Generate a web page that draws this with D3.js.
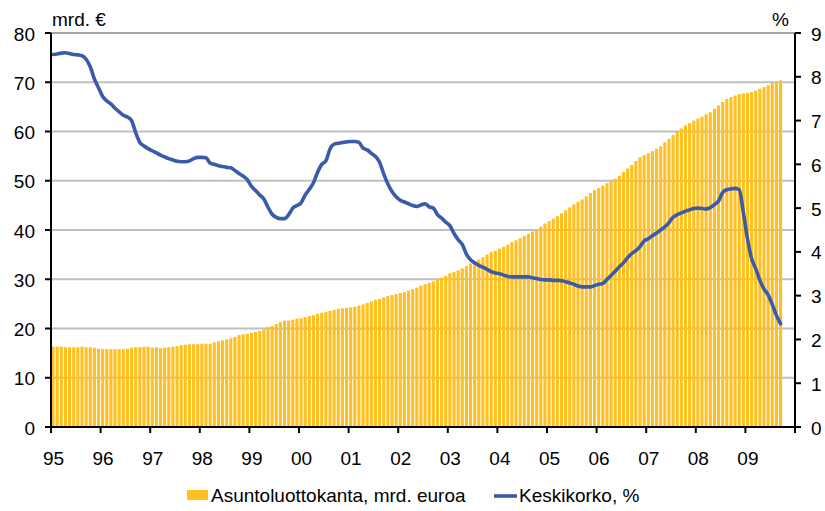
<!DOCTYPE html>
<head>
<title>Asuntoluottokanta ja keskikorko</title>
<meta charset="utf-8">
<style>
body, html {
  padding: 0;
  margin: 0;
  border: 0;
  background: #fff;
}
.chart-svg text {
  font-family: "Liberation Sans", Arial, sans-serif;
  font-size: 19px;
  fill: #000;
}
.grid line {
  stroke: #c0c0c0;
  stroke-width: 2px;
}
</style>
<script src="https://d3js.org/d3.v7.min.js"></script>
</head>
<body>
<script>

// year labels on the x axis (one per year, Jan 1995 .. 2009)
var yearLabels = ["95","96","97","98","99","00","01","02","03","04","05","06","07","08","09"];

// housing loan stock, bn euro, monthly Jan 1995 - Sep 2009
var loans = [
  16.3,16.3,16.3,16.2,16.2,16.2,16.2,16.3,16.2,16.2,16.1,15.9,
  15.8,15.8,15.8,15.8,15.8,15.8,15.9,16.1,16.2,16.2,16.3,16.3,
  16.1,16.2,16.0,16.1,16.2,16.3,16.4,16.6,16.7,16.8,16.8,16.8,
  16.9,16.9,16.9,17.2,17.4,17.6,17.8,18.0,18.3,18.7,18.8,18.9,
  19.1,19.3,19.5,19.8,20.3,20.5,20.9,21.3,21.6,21.6,21.8,22.0,
  22.1,22.3,22.5,22.7,23.0,23.2,23.4,23.6,23.8,24.0,24.1,24.2,
  24.3,24.4,24.6,24.9,25.2,25.5,25.8,26.0,26.3,26.6,26.8,27.0,
  27.2,27.4,27.7,28.0,28.3,28.7,29.0,29.3,29.6,30.0,30.3,30.7,
  31.2,31.5,31.8,32.2,32.7,33.2,33.6,34.0,34.5,35.0,35.5,35.8,
  36.2,36.6,37.0,37.5,37.9,38.3,38.8,39.2,39.7,40.2,40.7,41.3,
  41.8,42.3,42.8,43.4,44.0,44.6,45.2,45.7,46.2,46.8,47.5,48.1,
  48.5,49.0,49.5,50.0,50.4,51.0,51.8,52.5,53.2,54.0,54.8,55.2,
  55.6,56.0,56.5,57.0,57.8,58.5,59.3,60.0,60.6,61.2,61.7,62.2,
  62.6,63.0,63.5,63.9,64.6,65.3,66.0,66.6,67.0,67.3,67.6,67.7,
  67.8,68.0,68.3,68.7,69.0,69.4,69.8,70.1,70.4
];

// average interest rate, %, same months
var rate = [
  8.51,8.52,8.54,8.55,8.53,8.51,8.50,8.48,8.40,8.23,7.95,7.75,
  7.55,7.45,7.38,7.28,7.20,7.12,7.08,7.00,6.72,6.50,6.42,6.36,
  6.31,6.26,6.21,6.17,6.13,6.10,6.07,6.06,6.06,6.08,6.13,6.16,
  6.16,6.15,6.03,6.00,5.97,5.95,5.93,5.92,5.86,5.79,5.73,5.65,
  5.50,5.40,5.30,5.21,5.02,4.86,4.79,4.76,4.76,4.85,5.00,5.06,
  5.12,5.30,5.43,5.58,5.82,6.00,6.08,6.35,6.46,6.48,6.50,6.51,
  6.52,6.52,6.50,6.37,6.33,6.25,6.18,6.05,5.78,5.55,5.38,5.26,
  5.18,5.14,5.10,5.06,5.04,5.07,5.10,5.03,5.00,4.85,4.77,4.68,
  4.60,4.42,4.28,4.17,3.95,3.82,3.75,3.69,3.65,3.60,3.55,3.52,
  3.50,3.47,3.44,3.43,3.43,3.43,3.43,3.43,3.41,3.39,3.37,3.36,
  3.36,3.35,3.35,3.34,3.32,3.29,3.26,3.22,3.20,3.20,3.20,3.23,
  3.26,3.28,3.37,3.46,3.56,3.66,3.75,3.87,3.96,4.03,4.12,4.25,
  4.30,4.37,4.43,4.50,4.57,4.67,4.79,4.85,4.89,4.93,4.96,4.99,
  5.00,4.99,4.98,5.01,5.08,5.16,5.36,5.42,5.44,5.45,5.42,4.90,
  4.30,3.85,3.62,3.35,3.15,3.02,2.80,2.55,2.36
];

var leftTicks = [0,10,20,30,40,50,60,70,80];
var rightTicks = [0,1,2,3,4,5,6,7,8,9];

var width = 825, height = 511;
var margin = {top: 33, right: 30, bottom: 84, left: 51};
var x0 = margin.left, x1 = width - margin.right;
var y0 = height - margin.bottom, y1 = margin.top;

var svg = d3.select("body").append("svg")
  .attr("class", "chart-svg")
  .attr("width", width)
  .attr("height", height);

var months = d3.range(yearLabels.length * 12);

var x = d3.scaleBand()
  .domain(months)
  .range([x0, x1])
  .paddingInner(0.25)
  .paddingOuter(0.12);

var xYear = d3.scaleLinear()
  .domain([0, yearLabels.length])
  .range([x0, x1]);

var yL = d3.scaleLinear().domain([0, 80]).range([y0, y1]);
var yR = d3.scaleLinear().domain([0, 9]).range([y0, y1]);

// gridlines
svg.append("g")
  .attr("class", "grid")
  .selectAll("line")
  .data(leftTicks.slice(1))
  .join("line")
  .attr("x1", x0).attr("x2", x1)
  .attr("y1", function(d) { return yL(d); })
  .attr("y2", function(d) { return yL(d); })
  .style("stroke", function(d) { return d === 80 ? "#a6a6a6" : null; });

// bars
svg.append("g")
  .selectAll("rect")
  .data(loans)
  .join("rect")
  .attr("x", function(d, i) { return x(i); })
  .attr("width", x.bandwidth())
  .attr("y", function(d) { return yL(d); })
  .attr("height", function(d) { return y0 - yL(d); })
  .attr("fill", "#ffbf1f");

// rate line
var line = d3.line()
  .x(function(d, i) { return x(i) + x.bandwidth() / 2; })
  .y(function(d) { return yR(d); })
  .curve(d3.curveMonotoneX);

svg.append("path")
  .datum(rate)
  .attr("fill", "none")
  .attr("stroke", "#3a5ba9")
  .attr("stroke-width", 3.6)
  .attr("stroke-linejoin", "round")
  .attr("stroke-linecap", "round")
  .attr("d", line);

// left axis
var axL = svg.append("g");
axL.append("line")
  .attr("x1", x0).attr("x2", x0)
  .attr("y1", y1).attr("y2", y0 + 1)
  .attr("stroke", "#000").attr("stroke-width", 2);
axL.selectAll(".tk")
  .data(leftTicks)
  .join("line")
  .attr("x1", x0 - 6).attr("x2", x0)
  .attr("y1", function(d) { return yL(d); })
  .attr("y2", function(d) { return yL(d); })
  .attr("stroke", "#000").attr("stroke-width", 2);
axL.selectAll("text")
  .data(leftTicks)
  .join("text")
  .attr("x", 35)
  .attr("y", function(d) { return yL(d) + 7.5; })
  .attr("text-anchor", "end")
  .text(function(d) { return d; });

// right axis
var axR = svg.append("g");
axR.append("line")
  .attr("x1", x1).attr("x2", x1)
  .attr("y1", y1).attr("y2", y0 + 1)
  .attr("stroke", "#000").attr("stroke-width", 2);
axR.selectAll(".tk")
  .data(rightTicks)
  .join("line")
  .attr("x1", x1).attr("x2", x1 + 6)
  .attr("y1", function(d) { return yR(d); })
  .attr("y2", function(d) { return yR(d); })
  .attr("stroke", "#000").attr("stroke-width", 2);
axR.selectAll("text")
  .data(rightTicks)
  .join("text")
  .attr("x", 811)
  .attr("y", function(d) { return yR(d) + 7.5; })
  .text(function(d) { return d; });

// bottom axis
var axB = svg.append("g");
axB.append("line")
  .attr("x1", x0 - 6).attr("x2", x1)
  .attr("y1", y0).attr("y2", y0)
  .attr("stroke", "#000").attr("stroke-width", 2);
axB.selectAll(".tk")
  .data(d3.range(yearLabels.length + 1))
  .join("line")
  .attr("x1", function(d) { return xYear(d); })
  .attr("x2", function(d) { return xYear(d); })
  .attr("y1", y0).attr("y2", y0 + 6)
  .attr("stroke", "#000").attr("stroke-width", 2);
axB.selectAll("text")
  .data(yearLabels)
  .join("text")
  .attr("x", function(d, i) { return xYear(i) + 2.5; })
  .attr("y", 465)
  .attr("text-anchor", "middle")
  .text(function(d) { return d; });

// unit labels
svg.append("text")
  .attr("x", 52).attr("y", 26)
  .text("mrd. €");
svg.append("text")
  .attr("x", 789).attr("y", 26)
  .attr("text-anchor", "end")
  .text("%");

// legend
var lg = svg.append("g");
lg.append("rect")
  .attr("x", 187).attr("y", 490)
  .attr("width", 21).attr("height", 10)
  .attr("fill", "#ffbf1f");
lg.append("text")
  .attr("x", 211).attr("y", 502)
  .text("Asuntoluottokanta, mrd. euroa");
lg.append("line")
  .attr("x1", 494).attr("x2", 517)
  .attr("y1", 496).attr("y2", 496)
  .attr("stroke", "#3a5ba9").attr("stroke-width", 3.6);
lg.append("text")
  .attr("x", 519).attr("y", 502)
  .text("Keskikorko, %");

</script>
</body>
</html>
